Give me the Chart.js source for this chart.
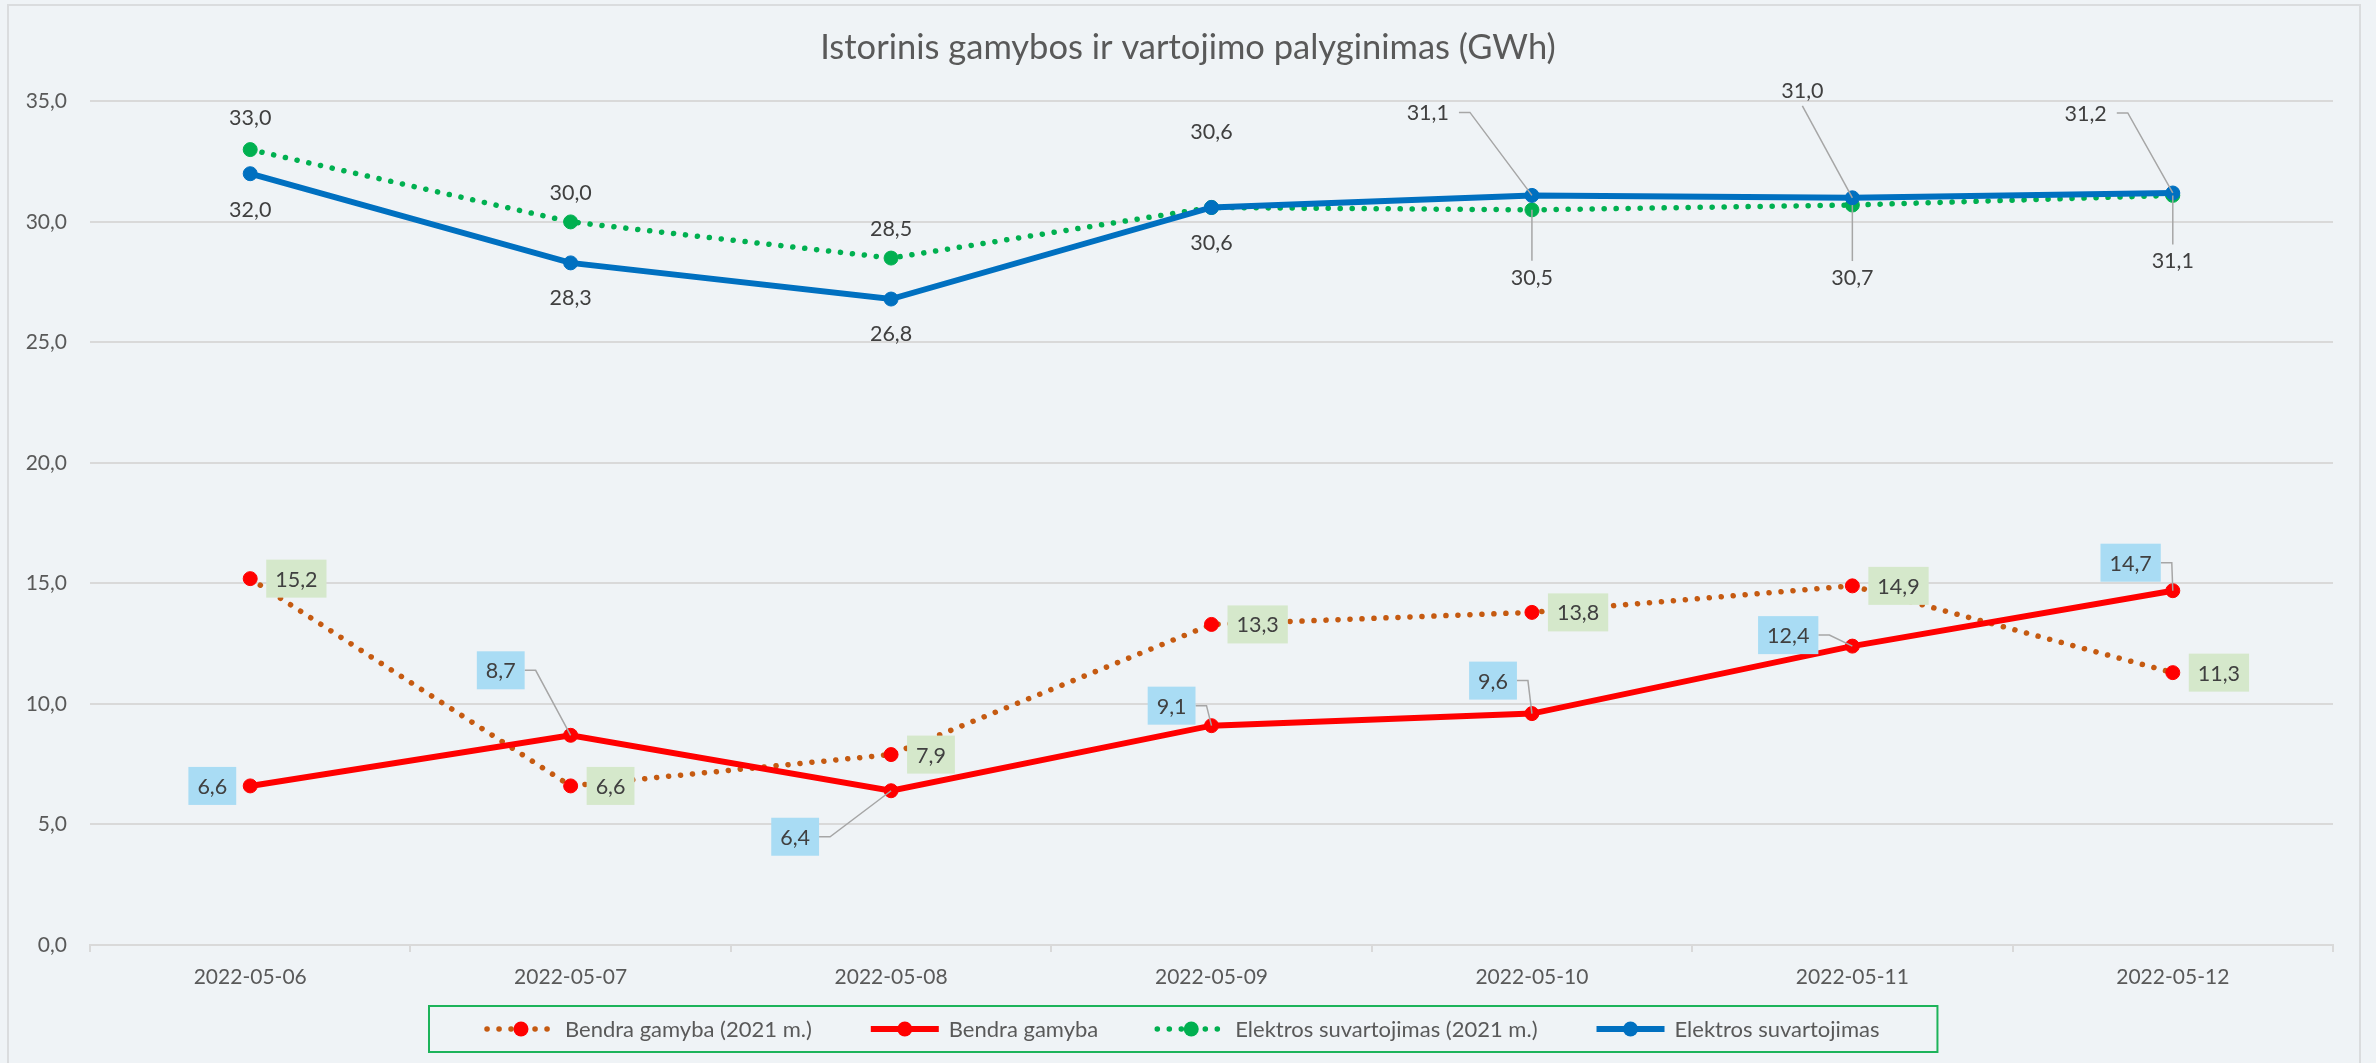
<!DOCTYPE html>
<html lang="lt">
<head>
<meta charset="utf-8">
<title>Istorinis gamybos ir vartojimo palyginimas</title>
<script src="https://cdn.jsdelivr.net/npm/chart.js@4.4.1/dist/chart.umd.min.js"></script>
<style>
  html, body { margin: 0; padding: 0; background: #eff3f6; }
  #wrap { position: relative; width: 2376px; height: 1063px; overflow: hidden; }
  #frame { position: absolute; left: 7px; top: 4px; width: 2354px; height: 1100px; border: 2px solid #dadcde; box-sizing: border-box; }
  canvas { position: absolute; left: 0; top: 0; }
</style>
</head>
<body>
<div id="wrap">
  <div id="frame"></div>
  <canvas id="chart" width="2376" height="1063"></canvas>
</div>
<script>
// --- 1. DUOMENYS ---
const dienos = ['2022-05-06', '2022-05-07', '2022-05-08', '2022-05-09', '2022-05-10', '2022-05-11', '2022-05-12'];
const gamyba2021 = [15.2, 6.6, 7.9, 13.3, 13.8, 14.9, 11.3];
const gamyba = [6.6, 8.7, 6.4, 9.1, 9.6, 12.4, 14.7];
const suvartojimas2021 = [33.0, 30.0, 28.5, 30.6, 30.5, 30.7, 31.1];
const suvartojimas = [32.0, 28.3, 26.8, 30.6, 31.1, 31.0, 31.2];
const yMin = 0, yMax = 35, yZingsnis = 5;

// --- 2. ETIKEČIŲ IŠDĖSTYMAS (px nuo taško) ---
// al: kuri dėžutės pusė pririšta prie dx; l: vedamoji linija
const pozGamyba2021 = [
    { dx: 16, dy: 0, al: 'left' }, { dx: 16, dy: 0, al: 'left' }, { dx: 16, dy: 0, al: 'left' },
    { dx: 16, dy: 0, al: 'left' }, { dx: 16, dy: 0, al: 'left' }, { dx: 16, dy: 0, al: 'left' },
    { dx: 16, dy: 0, al: 'left' }
];
const pozGamyba = [
    { dx: -14, dy: 0, al: 'right' },
    { dx: -46, dy: -65, al: 'right', l: 'side' },
    { dx: -72, dy: 46, al: 'right', l: 'side' },
    { dx: -16, dy: -20, al: 'right', l: 'side' },
    { dx: -15, dy: -33, al: 'right', l: 'side' },
    { dx: -34, dy: -11, al: 'right', l: 'side' },
    { dx: -12, dy: -28, al: 'right', l: 'side' }
];
const pozSuvartojimas2021 = [
    { dx: 0, dy: -33, al: 'center' }, { dx: 0, dy: -30, al: 'center' }, { dx: 0, dy: -30, al: 'center' },
    { dx: 0, dy: -76, al: 'center' },
    { dx: 0, dy: 67, al: 'center', l: 'top' },
    { dx: 0, dy: 72, al: 'center', l: 'top' },
    { dx: 0, dy: 65, al: 'center', l: 'top' }
];
const pozSuvartojimas = [
    { dx: 0, dy: 35, al: 'center' }, { dx: 0, dy: 34, al: 'center' }, { dx: 0, dy: 34, al: 'center' },
    { dx: 0, dy: 35, al: 'center' },
    { dx: -83, dy: -83, al: 'right', l: 'side' },
    { dx: -50, dy: -108, al: 'center', l: 'bottom' },
    { dx: -66, dy: -80, al: 'right', l: 'side' }
];

const SRIFTAS = 'Lato, "Open Sans", sans-serif';
const fmt = v => v.toFixed(1).replace('.', ',');

// --- 3. ETIKETĖS SU VEDAMOSIOMIS LINIJOMIS ---
const duomenuEtiketes = {
    id: 'duomenuEtiketes',
    afterDatasetsDraw(chart) {
        const ctx = chart.ctx;
        ctx.save();
        ctx.font = '21.5px ' + SRIFTAS;
        ctx.textBaseline = 'middle';
        ctx.textAlign = 'center';
        chart.data.datasets.forEach((ds, di) => {
            const meta = chart.getDatasetMeta(di);
            meta.data.forEach((pt, i) => {
                const txt = fmt(ds.data[i]);
                const p = ds.etiketes[i];
                const w = ctx.measureText(txt).width;
                const boxW = ds.etFonas ? w + 18 : w;
                let left;
                if (p.al === 'left') left = pt.x + p.dx;
                else if (p.al === 'right') left = pt.x + p.dx - boxW;
                else left = pt.x + p.dx - boxW / 2;
                const cy = pt.y + p.dy;
                const cx = left + boxW / 2;

                if (p.l) {
                    ctx.strokeStyle = '#a6a6a6';
                    ctx.lineWidth = 1.5;
                    ctx.beginPath();
                    if (p.l === 'side') {
                        const sx = left + boxW + (ds.etFonas ? 0 : 10);
                        ctx.moveTo(sx, cy);
                        ctx.lineTo(sx + 11, cy);
                        ctx.lineTo(pt.x, pt.y);
                    } else if (p.l === 'top') {
                        ctx.moveTo(pt.x, pt.y);
                        ctx.lineTo(cx, cy - 16);
                    } else {
                        ctx.moveTo(cx, cy + 16);
                        ctx.lineTo(pt.x, pt.y);
                    }
                    ctx.stroke();
                }
                if (ds.etFonas) {
                    ctx.fillStyle = ds.etFonas;
                    ctx.fillRect(left, cy - 19, boxW, 38);
                }
                ctx.fillStyle = '#404040';
                ctx.fillText(txt, cx, cy + 1);
            });
        });
        ctx.restore();
    }
};

// --- 4. LEGENDA SU RĖMELIU ---
const legenda = {
    id: 'legenda',
    afterDraw(chart) {
        const ctx = chart.ctx;
        ctx.save();
        ctx.font = '22px ' + SRIFTAS;
        const linija = 68, tarpas = 10, tarpTarp = 59, vidus = 58;
        const items = chart.data.datasets.map(ds => ({ ds, w: ctx.measureText(ds.label).width }));
        const turinys = items.reduce((s, it) => s + linija + tarpas + it.w, 0) + tarpTarp * (items.length - 1);
        const plotis = turinys + vidus * 2;
        const left = Math.round(chart.width / 2 - 5 - plotis / 2);
        const top = chart.chartArea.bottom + 61, h = 46;
        ctx.strokeStyle = '#1db35a';
        ctx.lineWidth = 2;
        ctx.strokeRect(left, top, plotis, h);

        let x = left + vidus;
        const cy = top + h / 2;
        items.forEach(it => {
            const ds = it.ds;
            ctx.save();
            ctx.strokeStyle = ds.borderColor;
            ctx.lineWidth = ds.borderWidth;
            ctx.lineCap = ds.borderCapStyle || 'butt';
            ctx.setLineDash(ds.borderDash || []);
            ctx.beginPath();
            ctx.moveTo(x, cy);
            ctx.lineTo(x + linija, cy);
            ctx.stroke();
            ctx.setLineDash([]);
            ctx.fillStyle = ds.pointBackgroundColor;
            ctx.beginPath();
            ctx.arc(x + linija / 2, cy, 7.5, 0, Math.PI * 2);
            ctx.fill();
            ctx.restore();
            ctx.fillStyle = '#595959';
            ctx.textBaseline = 'middle';
            ctx.textAlign = 'left';
            ctx.fillText(ds.label, x + linija + tarpas, cy + 1);
            x += linija + tarpas + it.w + tarpTarp;
        });
        ctx.restore();
    }
};

// --- 5. GRAFIKAS ---
const taskuSerija = (label, data, linijosSpalva, taskoSpalva, taskuota) => ({
    label: label,
    data: data,
    borderColor: linijosSpalva,
    backgroundColor: taskoSpalva,
    pointBackgroundColor: taskoSpalva,
    pointBorderColor: taskoSpalva,
    pointBorderWidth: 1,
    pointRadius: 7,
    borderWidth: taskuota ? 5.5 : 6,
    borderDash: taskuota ? [0.1, 11.9] : [],
    borderCapStyle: taskuota ? 'round' : 'butt',
    tension: 0,
    fill: false
});

const ds1 = taskuSerija('Bendra gamyba (2021 m.)', gamyba2021, '#c55a11', '#ff0000', true);
ds1.etiketes = pozGamyba2021; ds1.etFonas = '#d5e8cb'; ds1.order = 4;
const ds2 = taskuSerija('Bendra gamyba', gamyba, '#ff0000', '#ff0000', false);
ds2.etiketes = pozGamyba; ds2.etFonas = '#a9dcf4'; ds2.order = 3;
const ds3 = taskuSerija('Elektros suvartojimas (2021 m.)', suvartojimas2021, '#00b050', '#00b050', true);
ds3.etiketes = pozSuvartojimas2021; ds3.order = 2;
const ds4 = taskuSerija('Elektros suvartojimas', suvartojimas, '#0070c0', '#0070c0', false);
ds4.etiketes = pozSuvartojimas; ds4.order = 1;

new Chart(document.getElementById('chart'), {
    type: 'line',
    data: { labels: dienos, datasets: [ds1, ds2, ds3, ds4] },
    plugins: [duomenuEtiketes, legenda],
    options: {
        responsive: false,
        animation: false,
        devicePixelRatio: 1,
        layout: { padding: { left: 0, right: 0, top: 0, bottom: 68 } },
        plugins: {
            legend: { display: false },
            tooltip: { enabled: false },
            title: {
                display: true,
                text: 'Istorinis gamybos ir vartojimo palyginimas (GWh)',
                color: '#595959',
                font: { family: SRIFTAS, size: 34.5, weight: 'normal' },
                padding: { top: 27, bottom: 33 }
            }
        },
        scales: {
            x: {
                offset: true,
                grid: { display: true, drawOnChartArea: false, drawTicks: true, tickLength: 7, color: '#d9d9d9', lineWidth: 2, offset: true },
                border: { display: true, color: '#d9d9d9', width: 2 },
                ticks: { color: '#595959', font: { family: SRIFTAS, size: 21 }, padding: 13, maxRotation: 0 },
                afterFit: s => { s.height = 50; }
            },
            y: {
                min: yMin,
                max: yMax,
                grid: { color: '#d9d9d9', lineWidth: 2, drawTicks: false },
                border: { display: false },
                ticks: {
                    stepSize: yZingsnis,
                    color: '#595959',
                    font: { family: SRIFTAS, size: 21 },
                    padding: 23,
                    callback: v => fmt(v)
                },
                afterFit: s => { s.width = 90; }
            },
            // tuščia dešinė ašis - tik paraštė
            yTarpas: {
                type: 'linear',
                position: 'right',
                grid: { display: false },
                border: { display: false },
                ticks: { display: false },
                afterFit: s => { s.width = 43; }
            }
        }
    }
});
</script>
</body>
</html>
